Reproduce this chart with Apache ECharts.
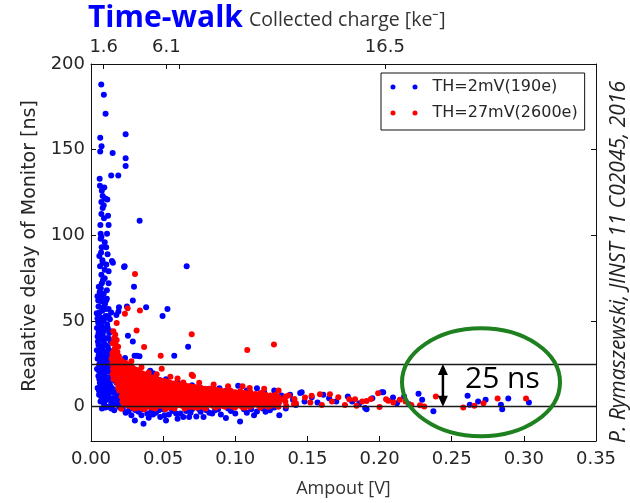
<!DOCTYPE html>
<html>
<head>
<meta charset="utf-8">
<script src="https://cdn.jsdelivr.net/npm/echarts@6/dist/echarts.min.js"></script>
<style>
  html, body { margin: 0; padding: 0; background: #ffffff; }
  #chart { width: 630px; height: 503px; }
</style>
</head>
<body>
<div id="chart"></div>
<script>
// Axis ticks
const delayTickValues = [0, 50, 100, 150, 200];
const chargeTickPositions = [0.0088, 0.0522, 0.0615, 0.2037]; // amplitude [V] where the charge ticks sit
const chargeTickLabels = ['1.6', '6.1', '', '16.5'];              // collected charge [ke-]
const seriesNames = ['TH=2mV(190e)', 'TH=27mV(2600e)'];
const timeWindow = [0, 25]; // ns, the 25 ns band

// [amplitude V, relative delay ns]
const th2mV = [
  [0.0071,188],[0.0089,182],[0.0101,171],[0.0240,159],[0.0064,157],[0.0073,152],[0.0064,149],[0.0150,148],
  [0.0240,145],[0.0240,140.5],[0.0140,135],[0.0189,135],[0.0062,129],[0.0092,128],[0.0081,123],[0.0099,121.5],
  [0.0113,121],[0.0072,119.5],[0.0088,117.6],[0.0081,116],[0.0072,112.5],[0.0118,111.5],[0.0337,108.5],[0.0122,106],
  [0.0067,101],[0.0111,101],[0.0072,99],[0.0067,98],[0.0074,93],[0.0079,85.5],[0.0145,85],[0.0081,84],
  [0.0063,82],[0.0106,83],[0.0095,80],[0.0122,79],[0.0152,84],[0.0233,82],[0.0663,82],[0.0072,77],
  [0.0083,74],[0.0054,70],[0.0122,72],[0.0298,70],[0.0229,81.5],
  [0.0070,90],[0.0095,96],[0.0065,106],[0.0090,110],[0.0075,126],[0.0060,133],[0.0105,93],[0.0058,88],
  [0.0115,89],[0.0095,75],[0.0110,68],[0.0075,72],
  [0.0060,67],[0.0088,66],[0.0045,64.5],[0.0110,63],[0.0070,61.5],[0.0097,60],[0.0052,58.5],[0.0122,57],
  [0.0078,56],[0.0040,54.5],[0.0102,53],[0.0066,52],[0.0131,51],[0.0086,50],[0.0050,49],[0.0112,48],
  [0.0072,47],[0.0042,46],[0.0096,45],[0.0060,44],[0.0126,43],[0.0081,42],[0.0046,41],[0.0106,40],
  [0.0066,39],[0.0136,38],[0.0091,37],[0.0052,36],[0.0116,35],[0.0076,34],[0.0041,33],[0.0101,32],
  [0.0061,31],[0.0131,30],[0.0086,29],[0.0046,28],[0.0111,27.5],[0.0071,27],[0.0151,26],[0.0096,25],
  [0.0056,24.5],[0.0126,24],[0.0081,23],[0.0042,22],[0.0106,21],[0.0066,20],[0.0141,19.5],[0.0091,19],
  [0.0051,18],[0.0116,17],[0.0076,16],[0.0161,15.5],[0.0101,15],[0.0061,14],[0.0131,13],[0.0086,12],
  [0.0046,11],[0.0111,10],[0.0071,9],[0.0151,8.5],[0.0096,8],[0.0056,7],[0.0121,6],[0.0081,5],
  [0.0171,4.5],[0.0106,4],[0.0066,3],[0.0141,2],[0.0091,1.5],[0.0186,1],[0.0121,0],[0.0076,-1],
  [0.0161,-2],[0.0196,3],[0.0206,7],[0.0181,10],[0.0221,12],[0.0176,14],[0.0201,17],[0.0166,20],
  [0.0146,23],[0.0116,46],[0.0136,44],[0.0084,58],[0.0104,62],[0.0068,69],[0.0140,55],
  [0.0050,62],[0.0075,64],[0.0100,57],[0.0058,55],[0.0120,53],[0.0090,51],[0.0045,51.5],[0.0070,49],
  [0.0105,46],[0.0085,44],[0.0052,43],[0.0120,40],[0.0078,39.5],[0.0048,38],[0.0100,36],[0.0068,35],
  [0.0125,33],[0.0088,32],[0.0053,30],[0.0118,29],[0.0076,28.5],[0.0100,27],[0.0135,27],[0.0063,25.5],
  [0.0110,23],[0.0090,21.5],[0.0055,21],[0.0125,20.5],[0.0075,18.5],[0.0100,17.5],[0.0140,16.5],[0.0058,16],
  [0.0088,14.5],[0.0120,14.5],[0.0070,12],[0.0105,12],[0.0145,11],[0.0055,9.5],[0.0090,10],[0.0130,9],
  [0.0165,8],[0.0070,6],[0.0110,7],[0.0150,5],[0.0185,6],[0.0095,3.5],[0.0130,4],[0.0160,1.5],
  [0.0200,-0.5],[0.0100,-0.5],[0.0140,-1],
  [0.0530,57],[0.0496,53],[0.0382,58],[0.0194,58],[0.0249,58.5],[0.0290,62],[0.0176,53.6],[0.0256,41.4],
  [0.0290,38],[0.0673,35],[0.0577,29.7],[0.0302,29.7],[0.0318,29.7],[0.0336,29.5],[0.0236,28.4],[0.0304,-8],
  [0.0364,-10],[0.0190,55.6],
  [0.0410,21],[0.0430,19.5],[0.0480,15.5],[0.0520,16],[0.0560,13],[0.0600,14.5],[0.0640,12],[0.0700,12.5],
  [0.0760,11],[0.0820,10.5],[0.0890,10.8],[0.0940,9.5],[0.1020,12.2],[0.1080,9.5],[0.1150,10.8],[0.1200,8.5],
  [0.1270,9.5],[0.1320,6.5],[0.1380,7],[0.1450,8],[0.1460,8.4],
  [0.0220,-1],[0.0260,-2.5],[0.0290,-1],[0.0330,-3],[0.0360,-1.5],[0.0390,-4],[0.0420,-2],[0.0450,-3.5],
  [0.0480,-6],[0.0500,-1.5],[0.0540,-4.5],[0.0570,-2.5],[0.0600,-7],[0.0620,-4],[0.0660,-2.5],[0.0680,-6],
  [0.0700,-1.5],[0.0730,-5.7],[0.0760,-3],[0.0800,-2],[0.0840,-4],[0.0880,-1.5],[0.0935,-6.6],[0.0970,-2.5],
  [0.1033,-8.6],[0.1080,-3.5],[0.1110,-1.5],[0.1150,-2.8],[0.1190,-1],[0.1240,-2],[0.1305,-5],[0.1350,-1],
  [0.0400,-6.5],[0.0280,-5],[0.0520,-8],
  [0.0240,-3.5],[0.0310,-2],[0.0350,-5],[0.0430,-4.5],[0.0470,-2],[0.0510,-5],[0.0560,-1.5],[0.0590,-4],
  [0.0640,-6],[0.0690,-3.5],[0.0750,-1.5],[0.0780,-6],[0.0820,-3.5],[0.0860,-2],[0.0900,-4.5],[0.0950,-1],
  [0.1000,-4],[0.1060,-1.5],[0.1130,-5],[0.1210,-3],[0.1270,-0.5],
  [0.0720,5],[0.0800,7],[0.0900,3],[0.0980,6],[0.1050,4],[0.1120,6],[0.1180,3],[0.1230,5],
  [0.1300,2],[0.1400,4],[0.1480,3],[0.1420,1],[0.1530,5.5],[0.1570,2.5],
  [0.1610,7],[0.1650,5],[0.1700,3],[0.1810,3.1],[0.1780,6],[0.1860,2],[0.1910,-1.4],[0.1900,-0.8],
  [0.1950,5],[0.2015,8.5],[0.2025,8.4],[0.2093,5.4],[0.2120,2],[0.2170,6],[0.2270,7.6],[0.2295,4],
  [0.2373,-2.7],[0.2205,1.5],[0.2610,6.4],[0.2625,1.2],[0.2683,3.1],[0.2735,4.1],[0.2841,1.2],[0.2850,-1.4],
  [0.2892,4.8],[0.3035,2.5]
];

const th27mV = [
  [0.0305,77.4],[0.0254,57.5],[0.0339,56.2],[0.0235,54.2],[0.0178,48.8],[0.0316,44.5],[0.0698,42.3],[0.0368,34.8],
  [0.0483,29.7],[0.1083,33.1],[0.1268,36.3],[0.0698,18.7],[0.0707,18],[0.0490,22.2],
  [0.0155,44],[0.0168,42],[0.0160,40],[0.0178,39],[0.0150,37],[0.0172,36],[0.0188,35],[0.0160,33],
  [0.0183,32],[0.0148,31],[0.0170,30],[0.0193,29.5],[0.0143,28],
  [0.0150,28],[0.0147,25],[0.0153,22],[0.0149,19],[0.0156,16],
  [0.0180,29],[0.0177,26],[0.0183,23],[0.0179,20],[0.0185,17],[0.0181,14],[0.0188,11],
  [0.0210,27],[0.0207,24],[0.0213,21],[0.0209,18],[0.0214,15],[0.0211,12],[0.0216,9],[0.0212,6],[0.0218,3],
  [0.0240,25.5],[0.0243,22.5],[0.0238,19.5],[0.0244,16.5],[0.0239,13.5],[0.0245,10.5],[0.0241,7.5],[0.0246,4.5],[0.0242,1.5],
  [0.0270,24],[0.0273,21],[0.0268,18],[0.0274,15],[0.0269,12],[0.0275,9],[0.0271,6],[0.0276,3],[0.0272,0.5],
  [0.0300,22],[0.0303,19],[0.0298,16],[0.0304,13],[0.0299,10],[0.0305,7],[0.0301,4],[0.0306,1],[0.0302,-1],
  [0.0335,20.5],[0.0332,17.5],[0.0338,14.5],[0.0333,11.5],[0.0339,8.5],[0.0334,5.5],[0.0340,2.5],[0.0336,0],
  [0.0370,19],[0.0367,16],[0.0373,13],[0.0368,10],[0.0374,7],[0.0369,4],[0.0375,1],[0.0371,-1.5],
  [0.0405,17.5],[0.0402,14.5],[0.0408,11.5],[0.0403,8.5],[0.0409,5.5],[0.0404,2.5],[0.0410,0],
  [0.0440,16.5],[0.0437,13.5],[0.0443,10.5],[0.0438,7.5],[0.0444,4.5],[0.0439,1.5],[0.0445,-1],
  [0.0475,15.5],[0.0472,12.5],[0.0478,9.5],[0.0473,6.5],[0.0479,3.5],[0.0474,0.5],
  [0.0510,15],[0.0507,12],[0.0513,9],[0.0508,6],[0.0514,3],[0.0509,0],[0.0515,-1.5],
  [0.0545,14],[0.0542,11],[0.0548,8],[0.0543,5],[0.0549,2],[0.0544,-0.5],
  [0.0580,13.5],[0.0577,10.5],[0.0583,7.5],[0.0578,4.5],[0.0584,1.5],[0.0579,-1],
  [0.0615,13],[0.0612,10],[0.0618,7],[0.0613,4],[0.0619,1],
  [0.0650,12.5],[0.0647,9.5],[0.0653,6.5],[0.0648,3.5],[0.0654,0.5],[0.0649,-1],
  [0.0685,12],[0.0682,9],[0.0688,6],[0.0683,3],[0.0689,0],
  [0.0720,11.5],[0.0717,8.5],[0.0723,5.5],[0.0718,2.5],[0.0724,-0.5],
  [0.0755,11],[0.0752,8],[0.0758,5],[0.0753,2],[0.0759,0],
  [0.0790,10.5],[0.0787,7.5],[0.0793,4.5],[0.0788,1.5],[0.0794,-1],
  [0.0825,10.5],[0.0822,7.5],[0.0828,4.5],[0.0823,1.5],
  [0.0860,10],[0.0857,7],[0.0863,4],[0.0858,1],[0.0864,-0.5],
  [0.0895,9.5],[0.0892,6.5],[0.0898,3.5],[0.0893,0.5],
  [0.0930,9],[0.0927,6],[0.0933,3],[0.0928,0],
  [0.0965,9.5],[0.0962,6.5],[0.0968,3.5],[0.0963,0.5],
  [0.1000,8.5],[0.0997,5.5],[0.1003,2.5],[0.0998,-0.5],
  [0.1035,9],[0.1032,6],[0.1038,3],[0.1033,0.5],
  [0.1070,8],[0.1067,5],[0.1073,2],[0.1068,-0.5],
  [0.1105,8.5],[0.1102,5.5],[0.1108,2.5],[0.1103,0],
  [0.1140,7.5],[0.1137,4.5],[0.1143,1.5],
  [0.1175,8],[0.1172,5],[0.1178,2],[0.1173,-0.5],
  [0.1210,7],[0.1207,4],[0.1213,1],
  [0.1245,6.5],[0.1242,3.5],[0.1248,0.5],
  [0.1280,7],[0.1277,4],[0.1283,1],
  [0.1350,6],[0.1347,3],[0.1353,0.5],
  [0.1410,4.5],[0.1407,1.5],
  [0.0165,34],[0.0166,30.5],[0.0164,26.5],[0.0166,23.5],[0.0165,20.5],[0.0167,17.5],
  [0.0195,27.5],[0.0196,24.5],[0.0194,21.5],[0.0196,18.5],[0.0195,15.5],[0.0197,12.5],[0.0196,9.5],
  [0.0225,26],[0.0226,23],[0.0224,20],[0.0226,17],[0.0225,14],[0.0227,11],[0.0225,8],[0.0226,5],[0.0228,2],
  [0.0255,24.5],[0.0256,21.5],[0.0254,18.5],[0.0256,15.5],[0.0255,12.5],[0.0257,9.5],[0.0255,6.5],[0.0256,3.5],[0.0258,0.5],
  [0.0285,23],[0.0286,20],[0.0284,17],[0.0286,14],[0.0285,11],[0.0287,8],[0.0285,5],[0.0286,2],[0.0288,-0.5],
  [0.0318,21.5],[0.0319,18.5],[0.0317,15.5],[0.0319,12.5],[0.0318,9.5],[0.0320,6.5],[0.0318,3.5],[0.0319,0.5],
  [0.0352,19.5],[0.0353,16.5],[0.0351,13.5],[0.0353,10.5],[0.0352,7.5],[0.0354,4.5],[0.0352,1.5],[0.0353,-1],
  [0.0388,18],[0.0389,15],[0.0387,12],[0.0389,9],[0.0388,6],[0.0390,3],[0.0388,0],
  [0.0422,17],[0.0423,14],[0.0421,11],[0.0423,8],[0.0422,5],[0.0424,2],[0.0422,-0.5],
  [0.0458,16],[0.0459,13],[0.0457,10],[0.0459,7],[0.0458,4],[0.0460,1],
  [0.0492,15],[0.0493,12],[0.0491,9],[0.0493,6],[0.0492,3],[0.0494,0.5],
  [0.0528,14.5],[0.0529,11.5],[0.0527,8.5],[0.0529,5.5],[0.0528,2.5],[0.0530,-0.5],
  [0.0562,13.5],[0.0563,10.5],[0.0561,7.5],[0.0563,4.5],[0.0562,1.5],
  [0.0598,13],[0.0599,10],[0.0597,7],[0.0599,4],[0.0598,1],
  [0.0632,12.5],[0.0633,9.5],[0.0631,6.5],[0.0633,3.5],[0.0632,0.5],
  [0.0668,12],[0.0669,9],[0.0667,6],[0.0669,3],[0.0668,0],
  [0.0702,11.5],[0.0703,8.5],[0.0701,5.5],[0.0703,2.5],[0.0702,0],
  [0.0738,11],[0.0739,8],[0.0737,5],[0.0739,2],[0.0738,-0.5],
  [0.0772,10.5],[0.0773,7.5],[0.0771,4.5],[0.0773,1.5],
  [0.0808,10],[0.0809,7],[0.0807,4],[0.0809,1],
  [0.0842,9.5],[0.0843,6.5],[0.0841,3.5],[0.0843,0.5],
  [0.0878,9.5],[0.0879,6.5],[0.0877,3.5],[0.0879,0.5],
  [0.0912,9],[0.0913,6],[0.0911,3],[0.0913,0.5],
  [0.0948,8.5],[0.0949,5.5],[0.0947,2.5],
  [0.0982,8.5],[0.0983,5.5],[0.0981,2.5],[0.0983,0],
  [0.1018,8],[0.1019,5],[0.1017,2],
  [0.1052,8],[0.1053,5],[0.1051,2],[0.1053,-0.5],
  [0.1088,7.5],[0.1089,4.5],[0.1087,1.5],
  [0.1122,7],[0.1123,4],[0.1121,1],
  [0.1158,7],[0.1159,4],[0.1157,1],
  [0.1192,6.5],[0.1193,3.5],[0.1191,0.5],
  [0.1228,6],[0.1229,3],[0.1227,0],
  [0.1262,5.5],[0.1263,2.5],
  [0.1300,5.5],[0.1301,2.5],[0.1299,0],
  [0.0350,23],[0.0400,20],[0.0455,19],[0.0550,17.5],[0.0600,16.5],[0.0280,26.5],[0.0750,14],[0.0850,13],
  [0.0950,12],[0.1100,11],[0.1200,10.5],[0.1300,9.5],[0.1050,12],[0.0640,14.2],[0.0210,-1.2],[0.0315,-0.8],
  [0.1322,4.4],[0.1370,6.5],[0.1420,2],[0.1483,5.4],[0.1529,6.4],[0.1520,2.5],[0.1587,7.3],[0.1600,1],
  [0.1656,7.3],[0.1670,3],[0.1714,5.6],[0.1760,1],[0.1790,4.4],[0.1830,4.4],[0.1840,0.5],[0.1880,3],
  [0.1910,3.4],[0.1940,4.5],[0.1990,7.9],[0.2000,-0.2],[0.2045,4.4],[0.2060,3.5],[0.2095,2.5],[0.2140,4],
  [0.2180,3],[0.2220,1],[0.2280,0.9],[0.2310,0.2],[0.2390,6],[0.2580,-0.4],[0.2657,0.6],[0.2720,2.1],
  [0.2818,4.8],[0.3015,4.8]
];

// Annotation anchors in data units
const arrowAmplitude = 0.2439;
const ellipseCentre = [0.2703, 14.3];
const bandLabelAnchor = [0.2592, 16];

const dejavu = 'DejaVu Sans';
const tickColor = '#262626';

const chart = echarts.init(document.getElementById('chart'), null, { renderer: 'canvas' });

const twoDots = 'path://M0,2.5A2.5,2.5,0,1,0,5,2.5A2.5,2.5,0,1,0,0,2.5ZM22,2.5A2.5,2.5,0,1,0,27,2.5A2.5,2.5,0,1,0,22,2.5Z';

const option = {
  animation: false,
  backgroundColor: '#ffffff',
  grid: { left: 91, right: 34, top: 64, bottom: 61, containLabel: false },
  legend: {
    data: seriesNames,
    orient: 'vertical',
    left: 381,
    top: 73,
    padding: [5, 7, 8, 9.5],
    itemGap: 8,
    itemWidth: 27,
    itemHeight: 5,
    icon: twoDots,
    backgroundColor: '#ffffff',
    borderColor: '#111111',
    borderWidth: 1,
    borderRadius: 0,
    selectedMode: false,
    textStyle: { fontFamily: dejavu, fontSize: 16, color: tickColor, lineHeight: 18, padding: [0, 0, 0, 10] }
  },
  xAxis: [
    {
      type: 'value', position: 'bottom', min: 0, max: 0.35, interval: 0.05,
      name: 'Ampout [V]', nameLocation: 'middle', nameGap: 39,
      nameTextStyle: { fontFamily: 'Open Sans', fontSize: 18, color: '#333333' },
      axisLine: { show: true, onZero: false, lineStyle: { color: '#111111', width: 1 } },
      axisTick: { show: true, inside: true, length: 5, lineStyle: { color: '#111111' } },
      axisLabel: { margin: 9, fontFamily: dejavu, fontSize: 18, color: tickColor, formatter: v => v.toFixed(2) },
      splitLine: { show: false }
    },
    {
      type: 'value', position: 'top', min: 0, max: 0.35,
      axisLine: { show: true, onZero: false, lineStyle: { color: '#111111', width: 1 } },
      axisTick: { show: true, inside: true, length: 5, lineStyle: { color: '#111111' }, customValues: chargeTickPositions },
      axisLabel: {
        margin: 8, fontFamily: dejavu, fontSize: 18, color: tickColor,
        customValues: chargeTickPositions.filter((p, i) => chargeTickLabels[i] !== ''),
        formatter: v => {
          const i = chargeTickPositions.findIndex(p => Math.abs(p - v) < 1e-6);
          return i >= 0 ? chargeTickLabels[i] : '';
        }
      },
      splitLine: { show: false }
    }
  ],
  yAxis: [
    {
      type: 'value', position: 'left', min: -20, max: 200,
      name: 'Realative delay of Monitor [ns]', nameLocation: 'middle', nameGap: 50,
      nameTextStyle: { fontFamily: dejavu, fontSize: 19, color: tickColor, padding: [0, 0, 0, 13] },
      axisLine: { show: true, onZero: false, lineStyle: { color: '#111111', width: 1 } },
      axisTick: { show: true, inside: true, length: 5, lineStyle: { color: '#111111' }, customValues: delayTickValues },
      axisLabel: { margin: 6, fontFamily: dejavu, fontSize: 18, color: tickColor, customValues: delayTickValues },
      splitLine: { show: false }
    },
    {
      type: 'value', position: 'right', min: -20, max: 200,
      axisLine: { show: true, onZero: false, lineStyle: { color: '#111111', width: 1 } },
      axisTick: { show: true, inside: true, length: 5, lineStyle: { color: '#111111' }, customValues: delayTickValues },
      axisLabel: { show: false },
      splitLine: { show: false }
    }
  ],
  series: [
    {
      name: seriesNames[0], type: 'scatter', xAxisIndex: 0, yAxisIndex: 0,
      data: th2mV, symbol: 'circle', symbolSize: 6,
      itemStyle: { color: '#0000ff', opacity: 1 },
      emphasis: { disabled: true }, z: 2
    },
    {
      name: seriesNames[1], type: 'scatter', xAxisIndex: 0, yAxisIndex: 0,
      data: th27mV, symbol: 'circle', symbolSize: 6,
      itemStyle: { color: '#ff0000', opacity: 1 },
      emphasis: { disabled: true }, z: 3,
      markLine: {
        silent: true, symbol: 'none', animation: false,
        label: { show: false },
        lineStyle: { color: '#1a1a1a', width: 1.3, type: 'solid' },
        emphasis: { disabled: true },
        data: timeWindow.map(v => ({ yAxis: v }))
      }
    }
  ]
};

chart.setOption(option);

// Annotations placed through the data coordinate system
const px = p => chart.convertToPixel({ seriesIndex: 0 }, p);
const a0 = px([arrowAmplitude, timeWindow[0]]);
const a1 = px([arrowAmplitude, timeWindow[1]]);
const ec = px(ellipseCentre);
const lbl = px(bandLabelAnchor);
const headLen = 11, headHalf = 5;

chart.setOption({
  graphic: [
    {
      type: 'text', left: 88, top: 3, z: 100,
      style: { text: 'Time-walk', fontFamily: 'Open Sans', fontWeight: 'bold', fontSize: 30, fill: '#0000ff' }
    },
    {
      type: 'text', left: 249, top: 10, z: 100,
      style: { text: 'Collected charge [ke\u207B]', fontFamily: 'Open Sans', fontSize: 19.5, fill: '#333333' }
    },
    {
      type: 'text', x: 619, y: 262, rotation: Math.PI / 2, z: 100,
      style: {
        text: 'P. Rymaszewski, JINST 11 C02045, 2016', fontFamily: 'Open Sans', fontStyle: 'italic',
        fontSize: 21, fill: '#222222', align: 'center', verticalAlign: 'middle'
      }
    },
    {
      type: 'ellipse', z: 100, silent: true,
      shape: { cx: ec[0], cy: ec[1], rx: 79, ry: 54 },
      style: { fill: 'none', stroke: '#1e801e', lineWidth: 4 }
    },
    {
      type: 'line', z: 100, silent: true,
      shape: { x1: a0[0], y1: a0[1] - headLen + 1, x2: a1[0], y2: a1[1] + headLen - 1 },
      style: { stroke: '#000000', lineWidth: 2.5 }
    },
    {
      type: 'polygon', z: 100, silent: true,
      shape: { points: [[a1[0], a1[1]], [a1[0] - headHalf, a1[1] + headLen], [a1[0] + headHalf, a1[1] + headLen]] },
      style: { fill: '#000000' }
    },
    {
      type: 'polygon', z: 100, silent: true,
      shape: { points: [[a0[0], a0[1]], [a0[0] - headHalf, a0[1] - headLen], [a0[0] + headHalf, a0[1] - headLen]] },
      style: { fill: '#000000' }
    },
    {
      type: 'text', x: lbl[0], y: lbl[1], z: 100,
      style: { text: '25 ns', fontFamily: 'Open Sans', fontSize: 30, fill: '#000000', verticalAlign: 'middle' }
    }
  ]
});
</script>
</body>
</html>
